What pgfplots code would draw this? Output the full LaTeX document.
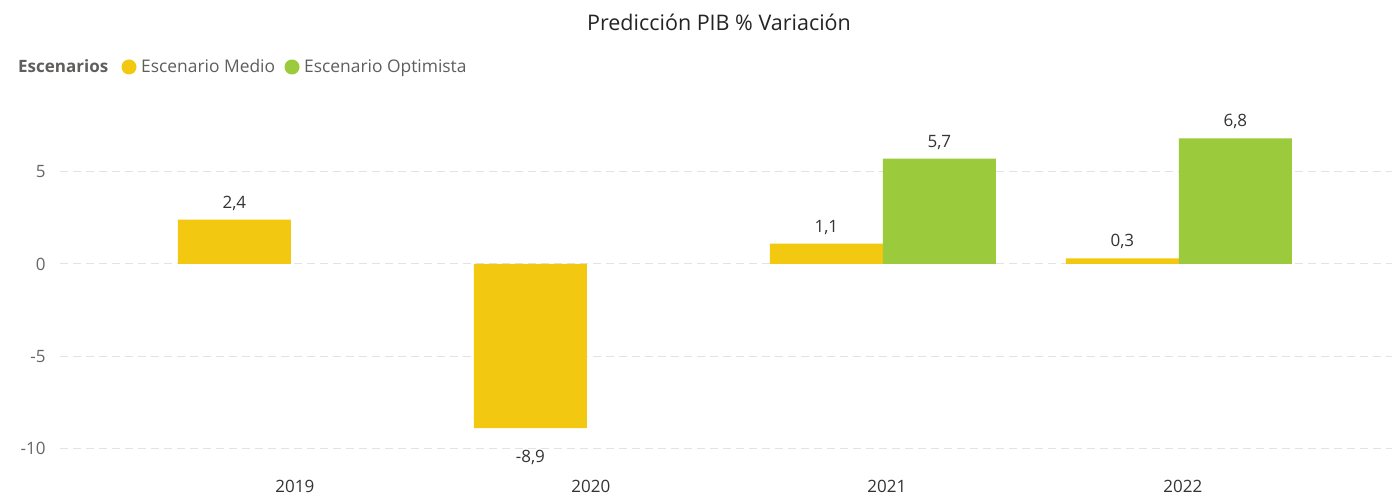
\documentclass[border=0pt]{standalone}
\usepackage{fontspec}
\setmainfont{Open Sans}
\usepackage{pgfplots}
\pgfplotsset{compat=1.18}
\definecolor{cYel}{HTML}{F2C811}
\definecolor{cGrn}{HTML}{9BCB3C}
\definecolor{cGrid}{HTML}{E3E3E3}
\definecolor{cTick}{HTML}{666666}
\definecolor{cLab}{HTML}{333333}
\definecolor{cTitle}{HTML}{252423}
\definecolor{cLeg}{HTML}{605E5C}
\begin{document}
\begin{tikzpicture}
\path[use as bounding box] (0bp,0bp) rectangle (1400bp,497bp);
\begin{axis}[
  at={(60bp,30bp)}, anchor=south west,
  scale only axis, width=1332bp, height=360bp,
  xmin=-0.78, xmax=3.72, ymin=-11, ymax=8.5,
  axis line style={draw=none}, tick style={draw=none},
  ymajorgrids, grid style={cGrid, line width=1bp, dash pattern=on 8bp off 5bp},
  ytick={-10,-5,0,5}, yticklabels={-10,-5,0,5},
  xtick={0,1,2,3}, xticklabels={2019,2020,2021,2022},
  yticklabel style={font=\fontsize{17bp}{20bp}\selectfont, text=cTick, xshift=-11bp},
  xticklabel style={font=\fontsize{17bp}{20bp}\selectfont, text=cLab, yshift=-5bp, xshift=4bp},
  ybar=0pt, bar width=113bp,
  clip=false,
  point meta=explicit symbolic,
  visualization depends on={rawy \as \rawy},
  nodes near coords,
  nodes near coords style={font=\fontsize{17bp}{20bp}\selectfont, text=cLab, inner sep=9bp,
    anchor=\ifdim\rawy pt<0pt north\else south\fi,
    yshift=\ifdim\rawy pt<0pt -13bp\else 0bp\fi},
]
\addplot[fill=cYel, draw=none] coordinates {(0,2.4) [2,4] (1,-8.9) [-8,9] (2,1.1) [1,1] (3,0.3) [0,3]};
\addplot[fill=cGrn, draw=none] coordinates {(2,5.7) [5,7] (3,6.8) [6,8]};
\end{axis}
\node[text=cTitle, font=\fontsize{21.5bp}{26bp}\selectfont] at (719bp,475bp) {Predicción PIB \% Variación};
\node[anchor=base west, inner sep=0pt, text=cLeg, font=\fontsize{17bp}{20bp}\selectfont\bfseries] at (18bp,424bp) {Escenarios};
\fill[cYel] (129bp,430bp) circle (7.5bp);
\node[anchor=base west, inner sep=0pt, text=cLeg, font=\fontsize{17.4bp}{20bp}\selectfont] at (141bp,424bp) {Escenario Medio};
\fill[cGrn] (292bp,430bp) circle (7.5bp);
\node[anchor=base west, inner sep=0pt, text=cLeg, font=\fontsize{17.4bp}{20bp}\selectfont] at (304bp,424bp) {Escenario Optimista};
\end{tikzpicture}
\end{document}
